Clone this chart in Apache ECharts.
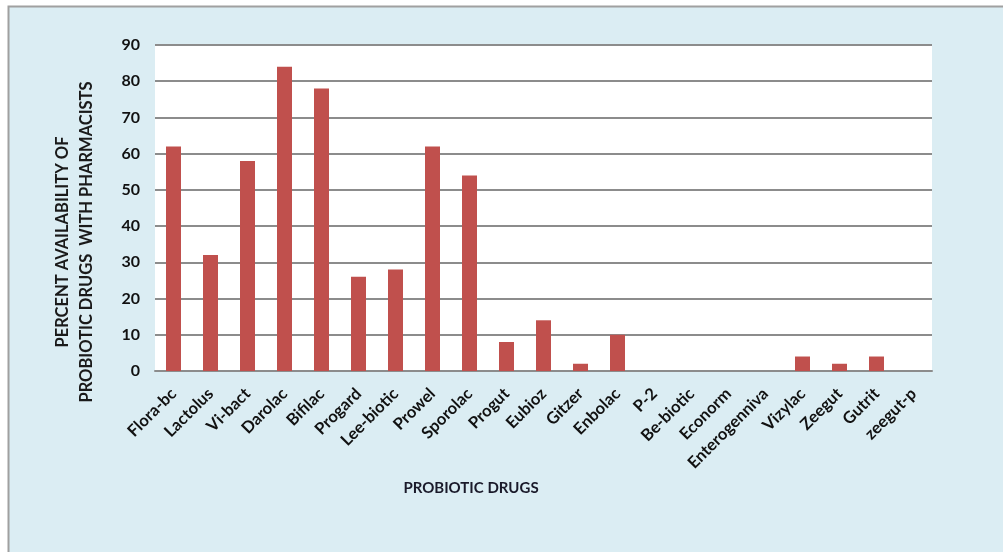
<!DOCTYPE html>
<html><head><meta charset="utf-8">
<script src="https://cdn.jsdelivr.net/npm/echarts@6/dist/echarts.min.js"></script>
<style>html,body{margin:0;padding:0;background:#fff;}#c{width:1003px;height:552px;}</style>
</head><body><div id="c"></div>
<script>
const categories = ['Flora-bc','Lactolus','Vi-bact','Darolac','Bifilac','Progard','Lee-biotic','Prowel','Sporolac','Progut','Eubioz','Gitzer','Enbolac','P-2','Be-biotic','Econorm','Enterogenniva','Vizylac','Zeegut','Gutrit','zeegut-p'];
const values = [62,32,58,84,78,26,28,62,54,8,14,2,10,0,0,0,0,4,2,4,0];
const yTicks = [0,10,20,30,40,50,60,70,80,90];
const xTitle = 'PROBIOTIC DRUGS';
const yTitle = 'PERCENT AVAILABILITY OF\nPROBIOTIC DRUGS  WITH PHARMACISTS';

const chart = echarts.init(document.getElementById('c'), null, {renderer:'canvas'});
const font = 'Lato, "Open Sans", sans-serif';
chart.setOption({
  animation:false,
  backgroundColor:'#ffffff',
  graphic:[
    {type:'rect', z:-10, shape:{x:8.5,y:6.5,width:1100,height:600}, style:{fill:'#DBEDF3', stroke:'#A0A0A0', lineWidth:2}},
    {type:'text', style:{text:xTitle, x:471, y:488, align:'center', verticalAlign:'middle', font:'bold 15px '+font, fill:'#1a1a2a'}},
    {type:'text', rotation:Math.PI/2, x:75, y:242, style:{text:yTitle, align:'center', verticalAlign:'middle', font:'bold 16.5px '+font, fill:'#1a1a1a', lineHeight:24}}
  ],
  grid:{left:155, right:71, top:45, bottom:181, show:true, backgroundColor:'#ffffff', borderWidth:0},
  xAxis:{
    type:'category', data:categories,
    axisLine:{show:true, lineStyle:{color:'#8c8c8c', width:2}},
    axisTick:{show:false},
    axisLabel:{rotate:45, interval:0, margin:20, color:'#111', fontWeight:'bold', fontSize:16.5, fontFamily:font}
  },
  yAxis:{
    type:'value', min:0, max:90, interval:10,
    axisLine:{show:false}, axisTick:{show:false},
    splitLine:{lineStyle:{color:'#8c8c8c', width:2}},
    axisLabel:{margin:15, color:'#111', fontWeight:'bold', fontSize:16, fontFamily:font,
      formatter:(v)=> yTicks.includes(v) ? String(v) : ''}
  },
  series:[{type:'bar', data:values, barWidth:15, itemStyle:{color:'#C0504D'}}]
});
</script></body></html>
